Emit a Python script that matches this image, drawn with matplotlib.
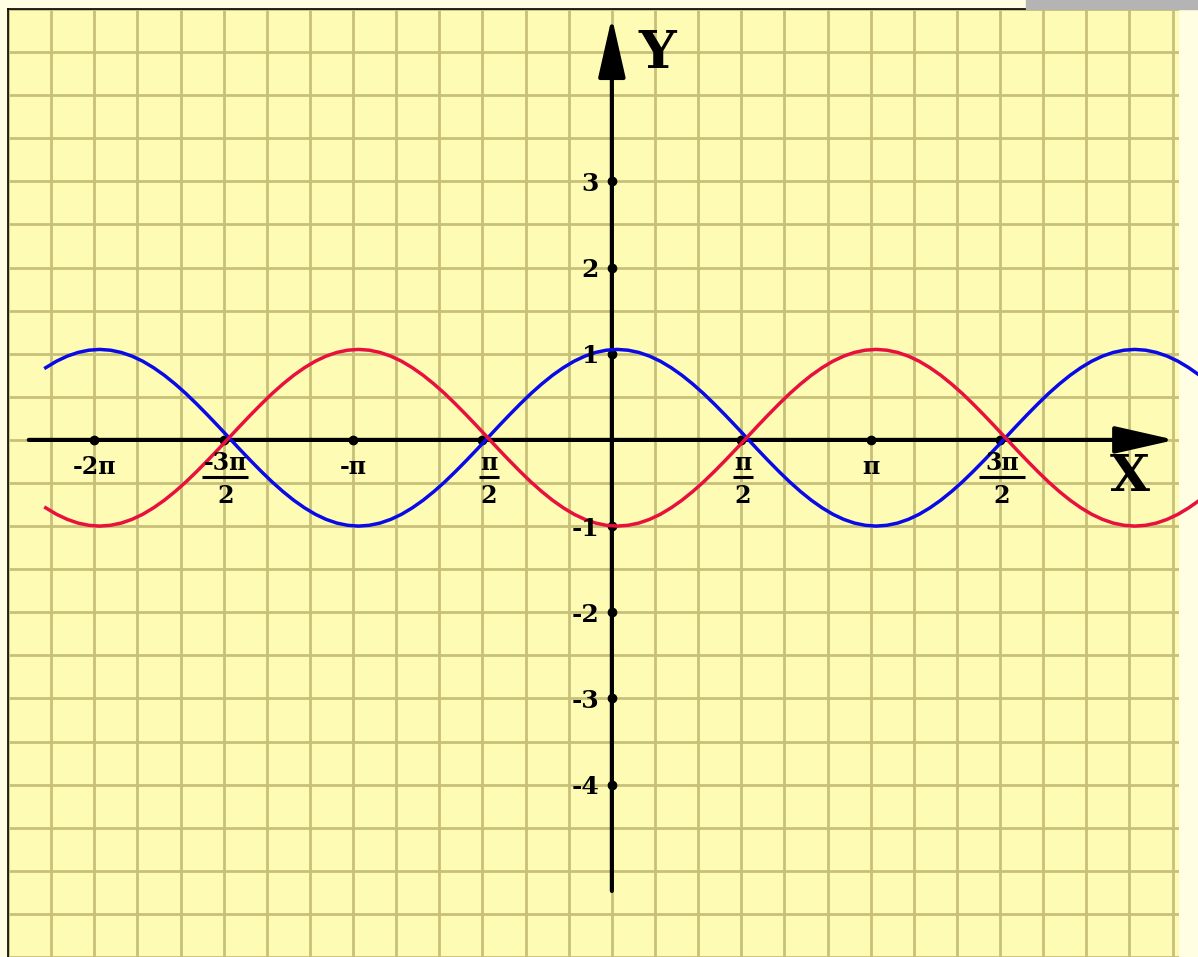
import numpy as np
import matplotlib.pyplot as plt
from matplotlib.patches import Rectangle

plt.rcParams['font.family'] = ['DejaVu Serif']

# curve samples: x in steps of pi/24 (from -53 to 55)
x_first, x_last = -53, 55
blue_y = [0.838, 0.913, 0.972, 1.015, 1.041,
          1.05, 1.041, 1.015, 0.972, 0.913, 0.838, 0.750, 0.649, 0.538, 0.417, 0.290, 0.159,
          0.025, -0.109, -0.240, -0.367, -0.488, -0.599, -0.700, -0.788, -0.863, -0.922, -0.965, -0.991,
          -1.0, -0.991, -0.965, -0.922, -0.863, -0.788, -0.700, -0.599, -0.488, -0.367, -0.240, -0.109,
          0.025, 0.159, 0.290, 0.417, 0.538, 0.649, 0.750, 0.838, 0.913, 0.972, 1.015, 1.041,
          1.05, 1.041, 1.015, 0.972, 0.913, 0.838, 0.750, 0.649, 0.538, 0.417, 0.290, 0.159,
          0.025, -0.109, -0.240, -0.367, -0.488, -0.599, -0.700, -0.788, -0.863, -0.922, -0.965, -0.991,
          -1.0, -0.991, -0.965, -0.922, -0.863, -0.788, -0.700, -0.599, -0.488, -0.367, -0.240, -0.109,
          0.025, 0.159, 0.290, 0.417, 0.538, 0.649, 0.750, 0.838, 0.913, 0.972, 1.015, 1.041,
          1.05, 1.041, 1.015, 0.972, 0.913, 0.838, 0.750, 0.649]
red_y = [-0.788, -0.863, -0.922, -0.965, -0.991,
         -1.0, -0.991, -0.965, -0.922, -0.863, -0.788, -0.700, -0.599, -0.488, -0.367, -0.240, -0.109,
         0.025, 0.159, 0.290, 0.417, 0.538, 0.649, 0.750, 0.838, 0.913, 0.972, 1.015, 1.041,
         1.05, 1.041, 1.015, 0.972, 0.913, 0.838, 0.750, 0.649, 0.538, 0.417, 0.290, 0.159,
         0.025, -0.109, -0.240, -0.367, -0.488, -0.599, -0.700, -0.788, -0.863, -0.922, -0.965, -0.991,
         -1.0, -0.991, -0.965, -0.922, -0.863, -0.788, -0.700, -0.599, -0.488, -0.367, -0.240, -0.109,
         0.025, 0.159, 0.290, 0.417, 0.538, 0.649, 0.750, 0.838, 0.913, 0.972, 1.015, 1.041,
         1.05, 1.041, 1.015, 0.972, 0.913, 0.838, 0.750, 0.649, 0.538, 0.417, 0.290, 0.159,
         0.025, -0.109, -0.240, -0.367, -0.488, -0.599, -0.700, -0.788, -0.863, -0.922, -0.965, -0.991,
         -1.0, -0.991, -0.965, -0.922, -0.863, -0.788, -0.700, -0.599]
phase_shift = 0.065  # curves sit a little right of the tick marks

x_dots = [-2*np.pi, -1.5*np.pi, -np.pi, -0.5*np.pi, 0.5*np.pi, np.pi, 1.5*np.pi]
y_dots = [-4, -3, -2, -1, 1, 2, 3]
y_labels = ['-4', '-3', '-2', '-1', '1', '2', '3']
x_plain = [(-2*np.pi, '-2п'), (-np.pi, '-п'), (np.pi, 'п')]
x_frac = [(-1.5*np.pi, '-3п'), (-0.5*np.pi, 'п'), (0.5*np.pi, 'п'), (1.5*np.pi, '3п')]

# layout in pixels of the 1198x957 picture
W, H = 1198, 957
SQ = 43.2            # grid square size
OX, OY = 611, 440.8  # origin
PL, PR, PT = 8, 1179, 9

def px_x(p):
    return (p - OX) / SQ * np.pi / 6

def px_y(p):
    return (OY - p) / (2 * SQ)

fig = plt.figure(figsize=(W/100, H/100), dpi=100, facecolor='#fffde2')
fig.patches.append(Rectangle((1026/W, 1 - 9/H), (W - 1026)/W, 9/H,
                             transform=fig.transFigure, color='#b4b4b4'))
ax = fig.add_axes([PL/W, 0, (PR - PL)/W, (H - PT)/H])
ax.set_facecolor('#fefcb4')
ax.set_xlim(px_x(PL), px_x(PR))
ax.set_ylim(px_y(H), px_y(PT))
ax.set_xticks(np.arange(-14, 14) * np.pi / 6)
ax.set_yticks(np.arange(-12, 11) * 0.5)
ax.tick_params(length=0, labelbottom=False, labelleft=False)
ax.grid(True, color='#c8c078', lw=2.0)
ax.set_axisbelow(True)
for s in ['right', 'bottom']:
    ax.spines[s].set_visible(False)
for s in ['top', 'left']:
    ax.spines[s].set_color('black')
    ax.spines[s].set_linewidth(1.2)

# axes with arrows
arrow = dict(arrowstyle='-|>,head_length=1.85,head_width=0.42', mutation_scale=20,
             lw=3, color='black', shrinkA=0, shrinkB=0)
ax.annotate('', xy=(0, px_y(17)), xytext=(0, px_y(893)), arrowprops=arrow, zorder=3)
ax.annotate('', xy=(px_x(1175), 0), xytext=(px_x(27), 0), arrowprops=arrow, zorder=3)

ax.plot(x_dots, np.zeros(len(x_dots)), 'o', ms=6, color='black', zorder=3.5)
ax.plot(np.zeros(len(y_dots)), y_dots, 'o', ms=6, color='black', zorder=3.5)

xs = np.arange(x_first, x_last + 1) * np.pi / 24 + phase_shift
ax.plot(xs, blue_y, color='#0a0ae6', lw=2.5, zorder=4, clip_on=False)
ax.plot(xs, red_y, color='#e8103c', lw=2.5, zorder=4, clip_on=False)

# tick labels
for v, lab in zip(y_dots, y_labels):
    ax.text(px_x(598), v - 0.03, lab, ha='right', va='center', fontsize=18,
            fontweight='bold', zorder=5)
for xv, lab in x_plain:
    ax.text(xv, -0.31, lab, ha='center', va='center', fontsize=17,
            fontweight='bold', zorder=5)
for xv, lab in x_frac:
    xc = xv + (0.08 if lab == 'п' and xv < 0 else 0.02)
    half = 0.12 if lab == 'п' else 0.28
    ax.text(xc, -0.27, lab, ha='center', va='center', fontsize=17,
            fontweight='bold', zorder=5)
    ax.plot([xc - half, xc + half], [-0.43, -0.43], color='black', lw=2.2,
            solid_capstyle='butt', zorder=5)
    ax.text(xc, -0.65, '2', ha='center', va='center', fontsize=17,
            fontweight='bold', zorder=5)

ax.text(px_x(657), px_y(53), 'Y', ha='center', va='center', fontsize=38,
        fontweight='bold')
ax.text(px_x(1130), px_y(478), 'X', ha='center', va='center', fontsize=37,
        fontweight='bold')

fig.savefig('out.png', dpi=100, facecolor=fig.get_facecolor())
